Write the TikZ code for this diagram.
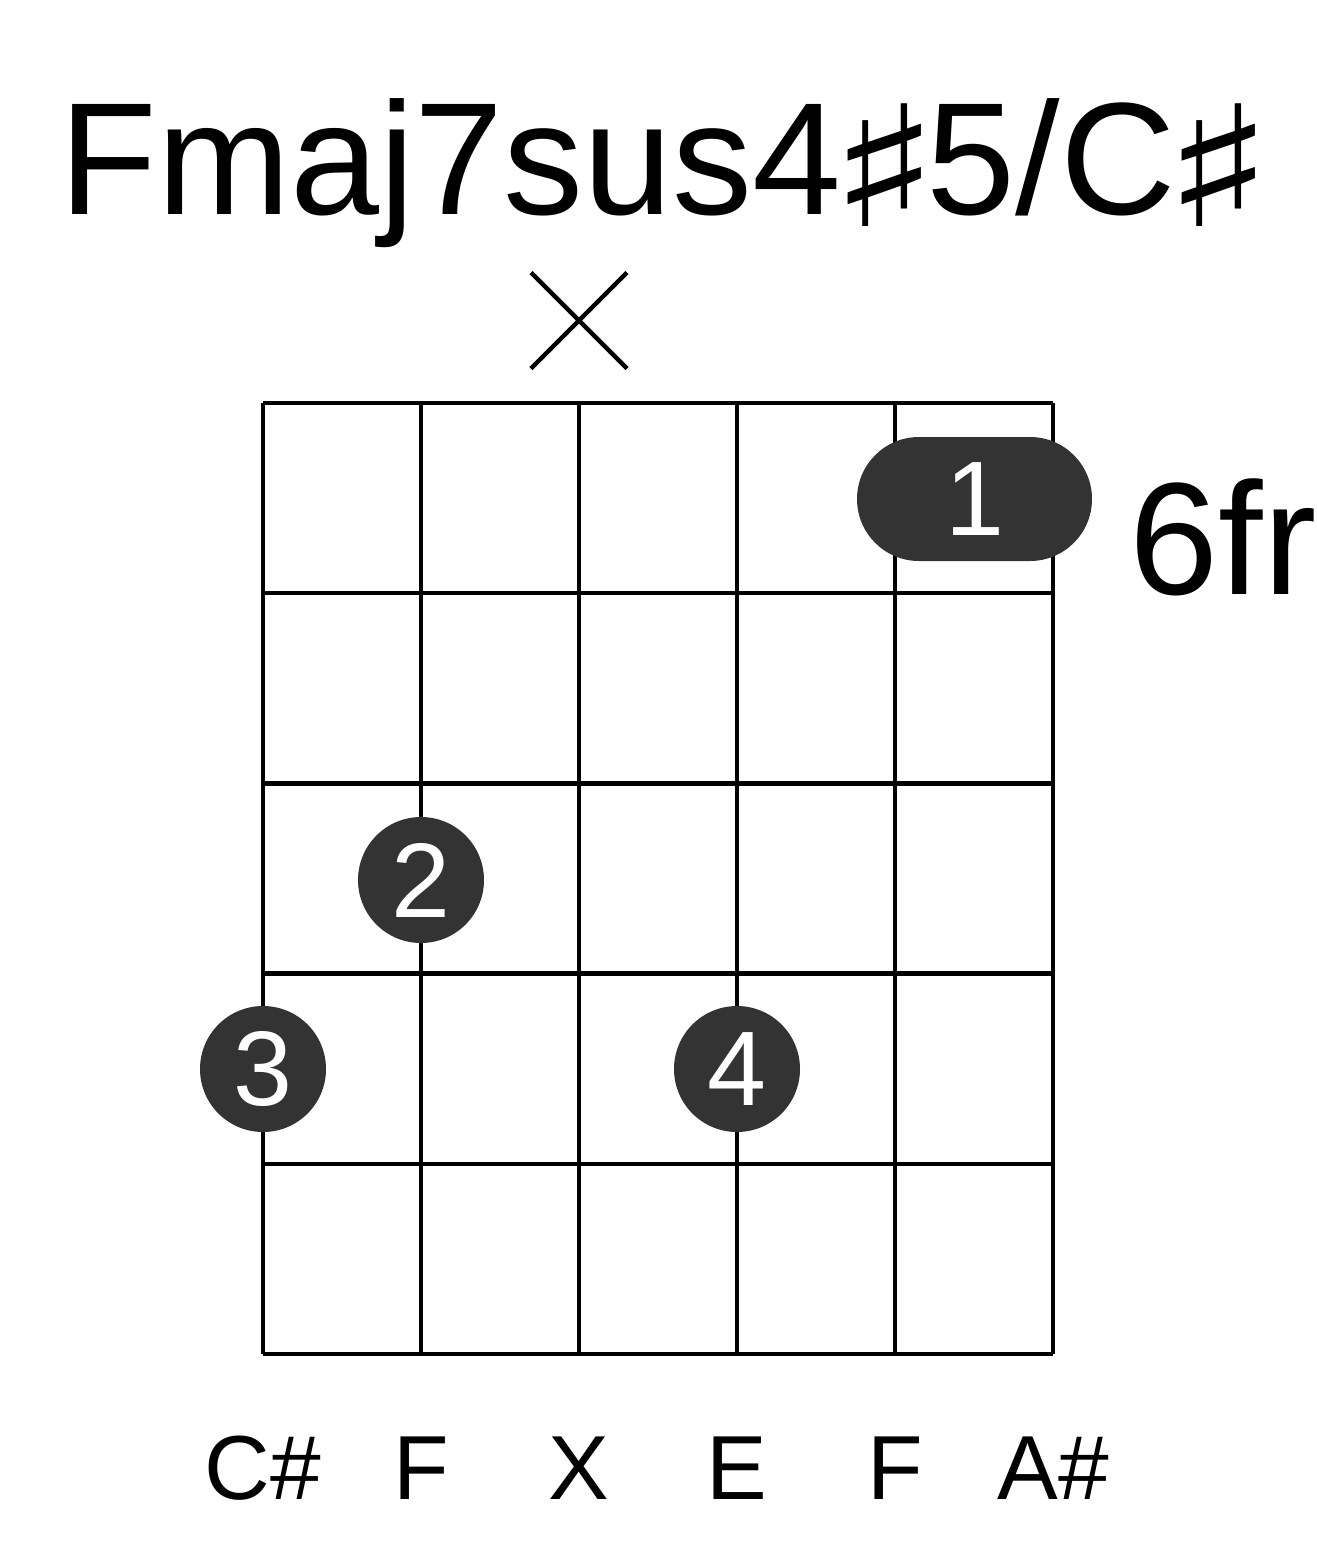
\documentclass[tikz,border=0pt]{standalone}
\usepackage{fontspec}
\setmainfont{Liberation Sans}
\newfontfamily\symfont{DejaVu Sans}
\usepackage{tikz}
\usetikzlibrary{calc}
\definecolor{dotgray}{HTML}{333333}
\newcommand{\sharpsign}{\makebox[85pt]{\raisebox{-12pt}{\scalebox{1.45}[1.05]{\symfont ♯}}}}

\begin{document}
\begin{tikzpicture}[x=1pt,y=1pt,
  finger/.style={circle,fill=dotgray,minimum size=126pt,inner sep=0pt,text=white,
    font=\fontsize{106}{106}\selectfont},
  notename/.style={anchor=base,font=\fontsize{91}{91}\selectfont}]
\useasboundingbox (0,0) rectangle (1317,-1551);
% title
\node[anchor=base,font=\fontsize{160}{160}\selectfont] (title) at (660,-214)
  {Fmaj7sus4\sharpsign5/C\sharpsign};
% frets and strings
\foreach \i in {0,...,5} {
  \draw[line width=4.5pt] (263+158*\i,-403) -- (263+158*\i,-1354);
  \draw[line width=4.5pt] (263,-403-190.2*\i) -- (1053,-403-190.2*\i);
}
% muted string
\coordinate (mute) at (579,-320.5);
\draw[line width=4.5pt] ($(mute)+(-48,48)$) -- ($(mute)+(48,-48)$)
  ($(mute)+(48,48)$) -- ($(mute)+(-48,-48)$);
% barre
\node[fill=dotgray,rounded corners=62pt,minimum width=235pt,minimum height=124pt,
  inner sep=0pt,text=white,font=\fontsize{106}{106}\selectfont] (barre) at (974.5,-499) {1};
\node[font=\fontsize{160}{160}\selectfont] (fret) at (1223,-537) {6fr};
% fingers
\node[finger] (two) at (421,-880) {2};
\node[finger] (three) at (263,-1069) {3};
\node[finger] (four) at (737,-1069) {4};
% note names
\foreach \n [count=\k from 0] in {C\#,F,X,E,F,A\#}
  \node[notename] (note\k) at (263+158*\k,-1499) {\n};
\end{tikzpicture}
\end{document}
